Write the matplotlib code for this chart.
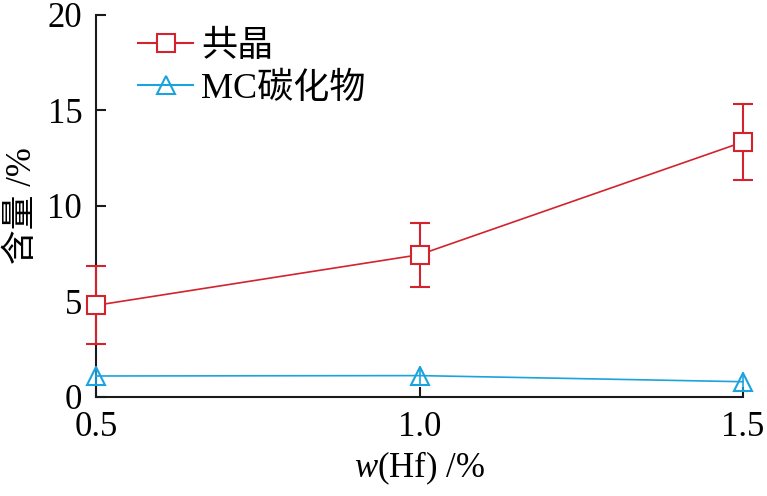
import matplotlib
matplotlib.use("Agg")
import matplotlib.pyplot as plt
from matplotlib.lines import Line2D

plt.rcParams['font.family'] = ['Liberation Serif', 'Noto Sans CJK SC']
plt.rcParams['mathtext.fontset'] = 'custom'
plt.rcParams['mathtext.it'] = 'Liberation Serif:italic'
plt.rcParams['mathtext.rm'] = 'Liberation Serif'

hf = [0.5, 1.0, 1.5]
eutectic = [4.8, 7.45, 13.35]
eutectic_err = [2.05, 1.67, 1.98]
mc_carbide = [1.1, 1.12, 0.8]
mc_err = [0.5, 0.5, 0.5]
xticks = [0.5, 1.0, 1.5]
xtick_labels = ['0.5', '1.0', '1.5']
yticks = [0, 5, 10, 15, 20]
series_names = ['共晶', 'MC碳化物']

red = '#D3232D'
blue = '#1BA3DD'

fig = plt.figure(figsize=(7.67, 4.96), dpi=100)
ax = fig.add_axes([0.1252, 0.1996, 0.8435, 0.7702])

ax.errorbar(hf, eutectic, yerr=eutectic_err, color=red, lw=1.2,
            marker='s', ms=13, mfc='white', mec=red, mew=1.5,
            capsize=7, capthick=1.5, elinewidth=1.5,
            clip_on=False, zorder=3)
ax.errorbar(hf, mc_carbide, yerr=mc_err, color=blue, lw=1.2,
            marker='^', ms=13, mfc='none', mec=blue, mew=1.5,
            capsize=0, elinewidth=1.2,
            clip_on=False, zorder=3)

ax.set_xlim(0.5, 1.5)
ax.set_ylim(0, 20)
ax.set_xticks(xticks)
ax.set_xticklabels(xtick_labels)
ax.set_yticks(yticks)
for s in ['top', 'right']:
    ax.spines[s].set_visible(False)
for s in ['left', 'bottom']:
    ax.spines[s].set_linewidth(1.5)
    ax.spines[s].set_color('#1a1a1a')
ax.tick_params(direction='in', length=7, width=1.5, labelsize=25,
               color='#1a1a1a')
ax.tick_params(axis='y', pad=10)
ax.tick_params(axis='x', pad=10)

ax.set_xlabel(r'$w$(Hf) /%', fontsize=25, labelpad=4)
ax.set_ylabel('含量 /%', fontsize=25, labelpad=6, fontweight='medium')

handles = [
    Line2D([], [], color=red, lw=1.5, marker='s', ms=13, mfc='white',
           mec=red, mew=1.5),
    Line2D([], [], color=blue, lw=1.5, marker='^', ms=13, mfc='none',
           mec=blue, mew=1.5),
]
leg = ax.legend(handles, series_names, loc='upper left',
                bbox_to_anchor=(0.015, 1.045), frameon=False,
                prop={'size': 26, 'weight': 'medium'},
                handlelength=1.52, handletextpad=0.22, labelspacing=0.25)

fig.savefig('out.png', dpi=100)
